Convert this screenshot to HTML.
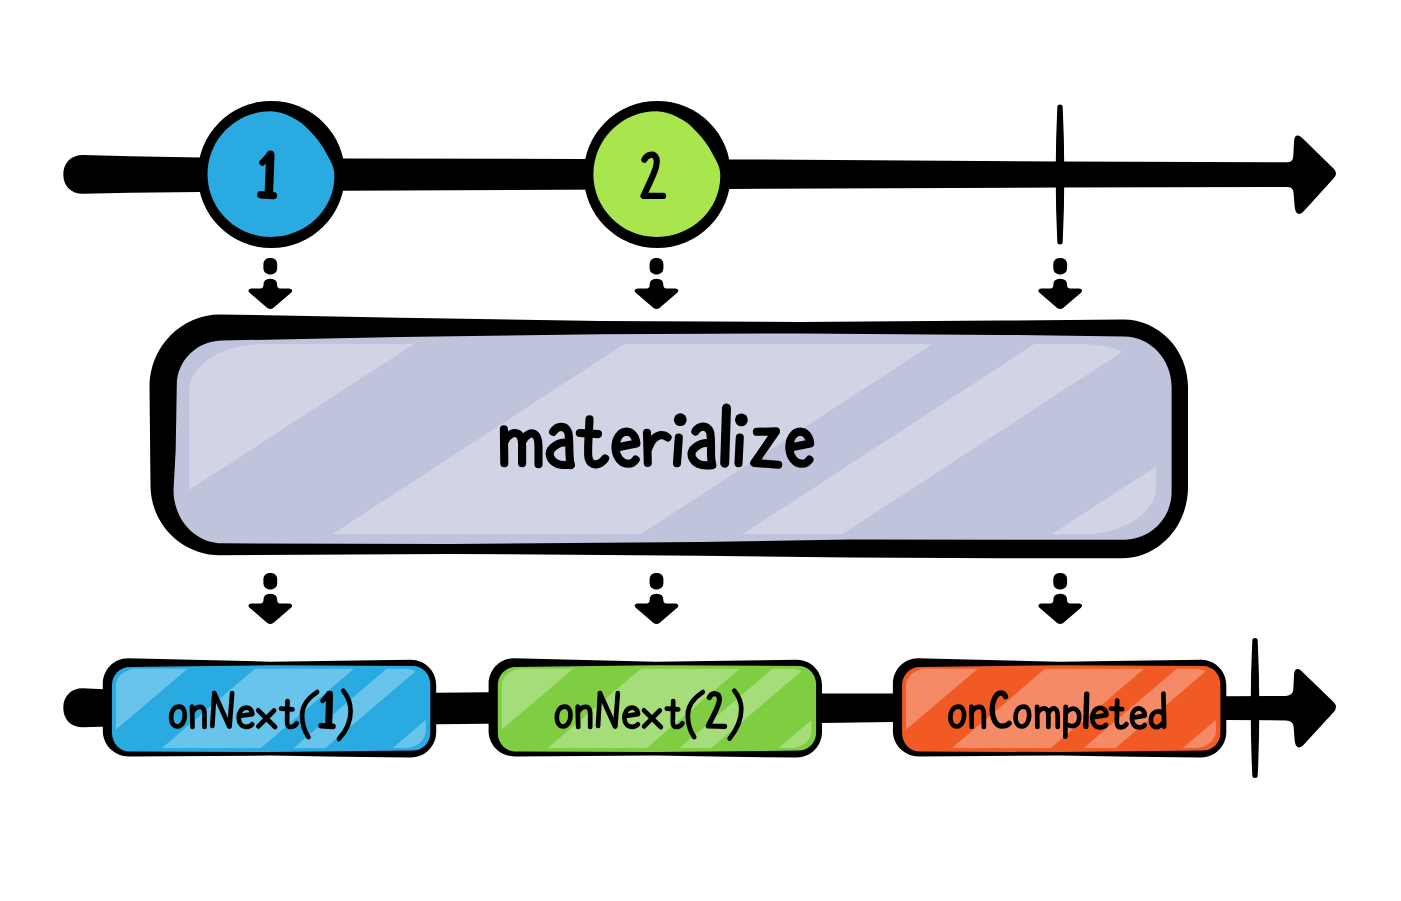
<!DOCTYPE html>
<html><head><meta charset="utf-8"><title>materialize</title>
<style>
html,body{margin:0;padding:0;background:#fff;}
body{width:1401px;height:901px;overflow:hidden;font-family:"Liberation Sans",sans-serif;}
svg{display:block;}
</style></head><body>
<svg width="1401" height="901" viewBox="0 0 1401 901">
<rect width="1401" height="901" fill="#fff"/>

<g fill="#000">
<path d="M83,155 L130,156.3 L200,157.6 L343,158.4 L729,159.4 L1060,161.5 L1288,162.2 Q1293,162 1293.3,156 L1294,142 Q1294.2,134.5 1298,135.5 Q1300,136 1302,137.8 L1333.5,168.5 Q1338.5,173.5 1333.5,178.6 L1303,212 Q1298.5,216 1296,212 Q1294.6,209 1294.3,202 L1293.6,193 Q1293.3,187.3 1288,187 L1060,187.5 L729,189 L343,190.8 L200,192 L130,192.7 L83,193.8 C71.2,193.8 63.3,186.0 63.3,174.4 C63.3,162.8 71.2,155.0 83.0,155.0 Z"/>
<path d="M1057.3,107.1 Q1057.3,104.6 1060,104.6 Q1062.7,104.6 1062.7,107.1 Q1064.3,139.6 1064.3,174.6 Q1064.3,209.6 1062.7,242.1 Q1062.7,244.6 1060,244.6 Q1057.3,244.6 1057.3,242.1 Q1055.7,209.6 1055.7,174.6 Q1055.7,139.6 1057.3,107.1 Z"/>
<circle cx="271.3" cy="174.5" r="73.6"/>
<circle cx="657.2" cy="174.5" r="73.6"/>
</g>
<path d="M270.7,111.3 C284.0,112 297.0,119 305.0,126 C313.0,133.5 319.0,141 324.0,149 L330.0,160 C333.0,165.5 334.4,170 334.4,176 C334.4,209.6 305.9,236.9 270.7,236.9 C235.8,236.9 207.5,208.8 207.5,174.2 C207.5,139.5 235.8,111.3 270.7,111.3 Z" fill="#29abe2"/>
<path d="M656.6,111.3 C669.9,112 682.9,119 690.9,126 C698.9,133.5 704.9,141 709.9,149 L715.9,160 C718.9,165.5 720.3,170 720.3,176 C720.3,209.6 691.8,236.9 656.6,236.9 C621.7,236.9 593.4,208.8 593.4,174.2 C593.4,139.5 621.7,111.3 656.6,111.3 Z" fill="#a9e64d"/>
<g fill="#000">
<rect x="263.4" y="258" width="13.8" height="16.4" rx="5.8" ry="6.2"/><path d="M263.4,285 Q263.4,278.8 270.3,278.8 Q277.2,278.8 277.2,285 L277.2,286 Q277.8,288.6 281.3,288.6 L289.3,288.6 Q293.8,289.5 291.3,292.5 L273.3,308 Q270.3,310.2 267.3,308 L249.3,292.5 Q246.8,289.5 251.3,288.6 L259.3,288.6 Q262.8,288.6 263.4,286 Z"/>
<rect x="263.4" y="573" width="13.8" height="16.4" rx="5.8" ry="6.2"/><path d="M263.4,600 Q263.4,593.8 270.3,593.8 Q277.2,593.8 277.2,600 L277.2,601 Q277.8,603.6 281.3,603.6 L289.3,603.6 Q293.8,604.5 291.3,607.5 L273.3,623 Q270.3,625.2 267.3,623 L249.3,607.5 Q246.8,604.5 251.3,603.6 L259.3,603.6 Q262.8,603.6 263.4,601 Z"/>
<rect x="649.6" y="258" width="13.8" height="16.4" rx="5.8" ry="6.2"/><path d="M649.6,285 Q649.6,278.8 656.5,278.8 Q663.4,278.8 663.4,285 L663.4,286 Q664.0,288.6 667.5,288.6 L675.5,288.6 Q680.0,289.5 677.5,292.5 L659.5,308 Q656.5,310.2 653.5,308 L635.5,292.5 Q633.0,289.5 637.5,288.6 L645.5,288.6 Q649.0,288.6 649.6,286 Z"/>
<rect x="649.6" y="573" width="13.8" height="16.4" rx="5.8" ry="6.2"/><path d="M649.6,600 Q649.6,593.8 656.5,593.8 Q663.4,593.8 663.4,600 L663.4,601 Q664.0,603.6 667.5,603.6 L675.5,603.6 Q680.0,604.5 677.5,607.5 L659.5,623 Q656.5,625.2 653.5,623 L635.5,607.5 Q633.0,604.5 637.5,603.6 L645.5,603.6 Q649.0,603.6 649.6,601 Z"/>
<rect x="1053.3" y="258" width="13.8" height="16.4" rx="5.8" ry="6.2"/><path d="M1053.3,285 Q1053.3,278.8 1060.2,278.8 Q1067.1,278.8 1067.1,285 L1067.1,286 Q1067.7,288.6 1071.2,288.6 L1079.2,288.6 Q1083.7,289.5 1081.2,292.5 L1063.2,308 Q1060.2,310.2 1057.2,308 L1039.2,292.5 Q1036.7,289.5 1041.2,288.6 L1049.2,288.6 Q1052.7,288.6 1053.3,286 Z"/>
<rect x="1053.3" y="573" width="13.8" height="16.4" rx="5.8" ry="6.2"/><path d="M1053.3,600 Q1053.3,593.8 1060.2,593.8 Q1067.1,593.8 1067.1,600 L1067.1,601 Q1067.7,603.6 1071.2,603.6 L1079.2,603.6 Q1083.7,604.5 1081.2,607.5 L1063.2,623 Q1060.2,625.2 1057.2,623 L1039.2,607.5 Q1036.7,604.5 1041.2,603.6 L1049.2,603.6 Q1052.7,603.6 1053.3,601 Z"/>
</g>
<path d="M220.0,314.4 L400.0,317.7 L600.0,320.9 L800.0,322.0 L1000.0,320.6 L1123.0,319.4 C1158.9,319.4 1188.0,349.7 1188.0,387.0 L1188.0,487.0 C1188.0,526.4 1158.5,558.3 1122.0,558.3 L1000.0,558.2 L850.0,557.5 L700.0,555.7 L450.0,553.9 L220.0,555.3 C181.9,555.3 150.8,524.3 150.5,486.0 L149.5,387.0 C149.5,346.9 181.1,314.4 220.0,314.4 Z" fill="#000"/>
<path d="M222.7,340.5 L400.0,337.1 L600.0,334.3 L800.0,333.4 L1000.0,334.9 L1124.0,336.4 C1150.3,336.4 1171.6,359.1 1171.6,387.0 L1171.6,492.0 C1171.6,518.3 1150.3,539.7 1124.0,539.7 L850.0,539.6 L700.0,542.1 L450.0,543.9 L222.0,543.3 C195.2,543.3 173.5,519.4 173.5,490.0 L175.7,450.0 L176.8,385.0 C176.8,360.4 197.3,340.5 222.7,340.5 Z" fill="#bfc4dc"/>
<clipPath id="cOp"><rect x="189" y="344" width="967" height="190.3" rx="74" ry="47"/></clipPath><g clip-path="url(#cOp)" fill="#fff" fill-opacity="0.28"><polygon points="189.0,344.0 414.0,344.0 189.0,490.0"/><polygon points="332.1,534.3 640.6,534.3 932.6,344.0 624.2,344.0"/><polygon points="742.5,534.3 842.2,534.3 1134.2,344.0 1034.5,344.0"/><polygon points="1051.6,534.3 1156.0,534.3 1156.0,466.4"/></g>
<g fill="#000">
<path d="M82.5,688.2 L120,689.9 L437,692.8 L488,692.3 L822,693.4 L892,693.4 L1226,696.3 L1286,696 Q1293,695.6 1293.3,689.6 L1294,675.6 Q1294.2,668.1 1298,669.1 Q1300,669.6 1302,671.4000000000001 L1333.5,702.1 Q1338.5,707.1 1333.5,712.2 L1303,745.6 Q1298.5,749.6 1296,745.6 Q1294.6,742.6 1294.3,735.6 L1293.6,726.6 Q1293.3,720.9 1286,720.4 L1226,720 L892,722 L822,722.9 L488,723.7 L437,724.3 L120,726.3 L82.5,727.3 C71.0,727.3 63.3,719.5 63.3,707.8 C63.3,696.0 71.0,688.2 82.5,688.2 Z"/>
<path d="M1252.3,640.5 Q1252.3,638 1255,638 Q1257.7,638 1257.7,640.5 Q1259.3,673.0 1259.3,708 Q1259.3,743.0 1257.7,775.5 Q1257.7,778 1255,778 Q1252.3,778 1252.3,775.5 Q1250.7,743.0 1250.7,708 Q1250.7,673.0 1252.3,640.5 Z"/>
</g>
<path d="M127.8,658.3 L269.8,661.7 L410.8,659.8 C424.8,659.8 436.2,671.1 436.2,685.0 L436.2,732.0 C436.2,746.1 424.8,757.5 410.8,757.5 L342.8,756.8 L269.8,755.6 L128.8,756.4 C114.4,756.4 102.8,745.0 102.8,731.0 L102.8,684.0 C102.8,669.8 114.0,658.3 127.8,658.3 Z" fill="#000"/><path d="M129.8,667.0 L269.8,665.3 L412.8,666.0 C422.5,666.0 430.3,674.1 430.3,684.0 L430.3,733.0 C430.3,742.7 422.5,750.6 412.8,750.6 L269.8,752.0 L129.8,751.6 C120.0,751.6 112.0,743.3 112.0,733.0 L112.0,685.0 C112.0,675.1 120.0,667.0 129.8,667.0 Z" fill="#29abe2"/><clipPath id="cL1"><rect x="115.7" y="668.6" width="310.2" height="79.6" rx="21" ry="18"/></clipPath><g clip-path="url(#cL1)" fill="#fff" fill-opacity="0.3"><polygon points="115.7,668.6 187.9,668.6 115.7,729.7"/><polygon points="161.6,748.2 260.6,748.2 354.2,668.6 255.3,668.6"/><polygon points="293.3,748.2 325.2,748.2 418.9,668.6 386.9,668.6"/><polygon points="392.4,748.2 425.9,748.2 425.9,719.8"/></g>
<path d="M513.6,658.3 L655.6,661.7 L796.6,659.8 C810.6,659.8 822.0,671.1 822.0,685.0 L822.0,732.0 C822.0,746.1 810.6,757.5 796.6,757.5 L728.6,756.8 L655.6,755.6 L514.6,756.4 C500.2,756.4 488.6,745.0 488.6,731.0 L488.6,684.0 C488.6,669.8 499.8,658.3 513.6,658.3 Z" fill="#000"/><path d="M515.6,667.0 L655.6,665.3 L798.6,666.0 C808.3,666.0 816.1,674.1 816.1,684.0 L816.1,733.0 C816.1,742.7 808.3,750.6 798.6,750.6 L655.6,752.0 L515.6,751.6 C505.8,751.6 497.8,743.3 497.8,733.0 L497.8,685.0 C497.8,675.1 505.8,667.0 515.6,667.0 Z" fill="#7fce42"/><clipPath id="cL2"><rect x="501.5" y="668.6" width="310.2" height="79.6" rx="21" ry="18"/></clipPath><g clip-path="url(#cL2)" fill="#fff" fill-opacity="0.3"><polygon points="501.5,668.6 573.7,668.6 501.5,729.7"/><polygon points="547.4,748.2 646.4,748.2 740.0,668.6 641.1,668.6"/><polygon points="679.1,748.2 711.0,748.2 804.7,668.6 772.7,668.6"/><polygon points="778.2,748.2 811.7,748.2 811.7,719.8"/></g>
<path d="M917.9,658.3 L1059.9,661.7 L1200.9,659.8 C1214.9,659.8 1226.3,671.1 1226.3,685.0 L1226.3,732.0 C1226.3,746.1 1214.9,757.5 1200.9,757.5 L1132.9,756.8 L1059.9,755.6 L918.9,756.4 C904.5,756.4 892.9,745.0 892.9,731.0 L892.9,684.0 C892.9,669.8 904.1,658.3 917.9,658.3 Z" fill="#000"/><path d="M919.9,667.0 L1059.9,665.3 L1202.9,666.0 C1212.6,666.0 1220.4,674.1 1220.4,684.0 L1220.4,733.0 C1220.4,742.7 1212.6,750.6 1202.9,750.6 L1059.9,752.0 L919.9,751.6 C910.1,751.6 902.1,743.3 902.1,733.0 L902.1,685.0 C902.1,675.1 910.1,667.0 919.9,667.0 Z" fill="#f15a24"/><clipPath id="cL3"><rect x="905.8" y="668.6" width="310.2" height="79.6" rx="21" ry="18"/></clipPath><g clip-path="url(#cL3)" fill="#fff" fill-opacity="0.3"><polygon points="905.8,668.6 978.0,668.6 905.8,729.7"/><polygon points="951.7,748.2 1050.7,748.2 1144.3,668.6 1045.4,668.6"/><polygon points="1083.4,748.2 1115.3,748.2 1209.0,668.6 1177.0,668.6"/><polygon points="1182.5,748.2 1216.0,748.2 1216.0,719.8"/></g>
<g fill="none" stroke="#000" stroke-linecap="round" stroke-linejoin="round"><g stroke-width="4.7"><path d="M179.3,706.6 C173.6,706.6 171.1,712.1 171.1,717.5 C171.1,722.8 173.6,726.5 177.5,726.5 C182.1,726.5 184.8,720.7 184.8,715.0 C184.8,710.0 182.8,706.6 179.3,706.6 Z"/><path d="M192.0,706.6 L192.5,727.0"/><path d="M192.7,711.8 C195.0,707.5 198.5,706.3 201.4,707.0 C204.1,708.0 204.5,710.7 204.5,714.3 L204.5,727.0"/><path d="M214.3,693.2 L212.3,726.0"/><path d="M214.3,693.2 L229.2,726.3"/><path d="M232.1,693.2 L229.6,726.3"/><path d="M239.6,716.0 L252.4,714.1 C252.4,710.0 249.2,707.5 246.0,707.7 C241.4,708.0 238.5,712.8 238.7,717.8 C238.9,723.5 242.1,726.8 246.4,726.8 C248.9,726.8 251.0,725.8 252.2,724.3"/><path d="M258.2,710.3 L275.1,727.0"/><path d="M274.1,710.5 L258.4,726.4"/><path d="M287.5,701.1 L287.1,722.1 C287.1,725.7 288.6,727.1 290.7,727.0 C293.5,726.8 295.7,725.0 296.8,723.2"/><path d="M281.1,708.7 L292.5,709.4"/><path d="M317.1,692.1 C308.5,697.8 302.1,705.7 302.1,715.0 C302.1,724.3 305.0,732.1 308.5,737.1"/><path d="M343.2,690.7 C348.5,697.1 350.6,704.3 350.6,711.4 C350.6,721.4 345.7,731.4 338.9,738.9"/><path d="M565.0,706.6 C559.3,706.6 556.8,712.1 556.8,717.5 C556.8,722.8 559.3,726.5 563.2,726.5 C567.8,726.5 570.5,720.7 570.5,715.0 C570.5,710.0 568.5,706.6 565.0,706.6 Z"/><path d="M577.7,706.6 L578.2,727.0"/><path d="M578.4,711.8 C580.7,707.5 584.2,706.3 587.1,707.0 C589.8,708.0 590.2,710.7 590.2,714.3 L590.2,727.0"/><path d="M600.0,693.2 L598.0,726.0"/><path d="M600.0,693.2 L614.9,726.3"/><path d="M617.8,693.2 L615.3,726.3"/><path d="M625.3,716.0 L638.1,714.1 C638.1,710.0 634.9,707.5 631.7,707.7 C627.1,708.0 624.2,712.8 624.4,717.8 C624.6,723.5 627.8,726.8 632.1,726.8 C634.6,726.8 636.7,725.8 637.9,724.3"/><path d="M643.9,710.3 L660.8,727.0"/><path d="M659.8,710.5 L644.1,726.4"/><path d="M673.2,701.1 L672.8,722.1 C672.8,725.7 674.3,727.1 676.4,727.0 C679.2,726.8 681.4,725.0 682.5,723.2"/><path d="M666.8,708.7 L678.2,709.4"/><path d="M702.8,692.1 C694.2,697.8 687.8,705.7 687.8,715.0 C687.8,724.3 690.7,732.1 694.2,737.1"/><path d="M734.3,690.7 C739.3,696.7 741.3,702.6 741.3,709.3 C741.3,720.0 736.0,730.6 729.6,738.6"/><path d="M958.6,706.6 C952.9,706.6 950.4,712.1 950.4,717.5 C950.4,722.8 952.9,726.5 956.8,726.5 C961.4,726.5 964.1,720.7 964.1,715.0 C964.1,710.0 962.1,706.6 958.6,706.6 Z"/><path d="M971.3,706.6 L971.8,727.0"/><path d="M972.0,711.8 C974.3,707.5 977.8,706.3 980.7,707.0 C983.4,708.0 983.8,710.7 983.8,714.3 L983.8,727.0"/><path d="M1023.7,706.6 C1018.0,706.6 1015.5,712.1 1015.5,717.5 C1015.5,722.8 1018.0,726.5 1021.9,726.5 C1026.5,726.5 1029.2,720.7 1029.2,715.0 C1029.2,710.0 1027.2,706.6 1023.7,706.6 Z"/><path d="M1037.1,706.8 L1037.4,727.0"/><path d="M1037.8,712.6 C1040.1,708.3 1044.0,707.6 1046.3,709.1 C1048.3,710.7 1048.4,713.4 1048.4,716.5 L1048.4,727.0"/><path d="M1048.6,712.6 C1050.6,708.7 1053.7,707.6 1055.6,709.1 C1057.6,710.7 1057.7,713.4 1057.7,716.5 L1057.7,727.0"/><path d="M1065.7,706.8 L1065.3,736.7"/><path d="M1066.1,712.6 C1068.8,708.7 1073.5,707.6 1076.6,709.9 C1079.7,712.6 1080.1,718.8 1077.8,723.1 C1075.0,726.6 1070.4,726.6 1066.1,724.3"/><path d="M1093.1,717.3 L1106.5,715.1 C1106.5,710.7 1103.4,707.6 1099.9,707.8 C1095.2,708.1 1092.1,713.0 1092.3,718.4 C1092.5,723.9 1095.6,727.4 1099.9,727.4 C1102.6,727.4 1104.7,726.4 1106.0,724.9"/><path d="M1117.2,700.6 L1116.8,722.3 C1116.8,725.8 1118.3,727.5 1120.7,727.4 C1123.4,727.1 1125.3,725.8 1126.5,723.9"/><path d="M1111.0,708.6 L1122.2,709.2"/><path d="M1132.6,717.7 L1144.8,715.6 C1144.8,711.1 1141.7,708.1 1138.3,708.3 C1133.9,708.7 1131.8,713.4 1131.9,718.4 C1132.2,723.9 1135.0,727.4 1139.3,727.4 C1141.8,727.4 1143.6,726.4 1144.7,725.0"/><path d="M1163.4,714.2 C1160.7,710.3 1156.0,710.7 1153.3,713.4 C1150.2,716.5 1150.2,722.7 1152.9,725.8 C1156.0,728.5 1160.7,726.6 1163.4,722.3"/><path d="M1163.4,693.6 L1164.2,726.6"/></g><g stroke-width="8.1"><path d="M503.9,429.2 L504.3,463.3"/><path d="M504.8,441.2 C508.3,434.1 514.5,431.4 518.5,434.1 C521.6,436.3 522.1,441.2 522.1,445.6 L522.1,463.3"/><path d="M522.5,441.2 C525.6,434.5 531.4,431.8 534.9,434.5 C538.3,437.2 538.5,442.0 538.5,446.5 L538.5,464.2"/><path d="M553.1,431.8 C557.1,426.1 565.1,424.3 568.2,432.3 C569.6,437.6 569.1,448.3 569.6,456.2 C569.7,460.7 570.3,463.3 570.9,465.1"/><path d="M568.7,442.9 C563.3,441.6 556.2,443.4 550.9,449.6 C548.3,454.0 550.0,459.8 556.2,463.3 C560.7,465.6 566.0,465.1 570.4,464.7"/><path d="M589.5,419.4 C589.1,430.5 587.7,444.7 588.2,455.4 C588.6,462.5 592.6,465.1 597.1,464.2 C601.1,463.3 603.7,460.7 605.1,458.5"/><path d="M579.8,433.0 L598.0,434.1"/><path d="M617.8,447.2 L636.4,443.6 C635.9,436.7 632.0,431.8 626.6,431.6 C619.5,431.6 615.3,439.4 615.5,448.3 C616.0,457.1 621.3,463.8 628.4,463.8 C632.0,463.8 634.2,462.0 635.7,459.6"/><path d="M647.0,432.7 L647.8,462.9"/><path d="M648.4,448.3 C651.0,441.2 655.0,435.8 661.2,435.1 C663.9,435.1 666.1,436.0 667.6,437.4"/><path d="M678.8,437.6 L677.0,463.3"/><path d="M695.4,431.4 C698.5,426.1 706.5,423.8 710.1,431.8 C711.4,437.6 710.9,448.3 711.1,456.2 C711.3,460.7 711.8,463.3 712.3,465.1"/><path d="M710.5,443.4 C705.2,442.0 698.1,443.8 692.7,450.0 C690.1,454.5 691.9,460.2 698.1,463.8 C702.5,465.8 707.8,465.6 712.0,464.9"/><path d="M739.8,437.6 L738.5,463.3"/><path d="M756.9,431.8 L776.0,431.4 L754.3,462.9 L778.2,464.7"/><path d="M791.5,447.2 L810.2,443.6 C809.7,436.7 805.7,431.8 800.4,431.6 C793.3,431.6 789.1,439.4 789.3,448.3 C789.8,457.1 795.1,463.8 802.2,463.8 C805.7,463.8 808.0,462.0 809.5,459.6"/></g><g stroke-width="9"><path d="M726.5,408.1 L724.7,463.2"/></g><path stroke-width="5.4" d="M1086.7,694.1 L1085.8,726.4"/><path stroke-width="7.0" d="M329.6,694.3 L328.7,725.3"/><path stroke-width="5.0" d="M322.7,700.6 L328.9,693.9"/><path stroke-width="5.8" d="M321.2,725.7 L332.9,726.3"/><path stroke-width="5.2" d="M709.3,697.5 C712.0,692.3 719.4,692.1 719.4,699.3 C719.3,706.6 712.0,717.3 708.3,726.0 L724.6,726.3"/><path stroke-width="5.3" d="M1005.5,696.7 C1004.7,693.7 1002.5,692.7 1000.4,692.8 C995.7,693.7 992.2,701.4 992.2,709.1 C992.2,718.5 995.7,725.8 1001.7,726.1 C1005.1,726.1 1007.7,725.0 1009.2,723.4"/><path stroke-width="8.4" d="M270.4,154.7 L268.8,194.1"/><path stroke-width="6.2" d="M262.4,162.7 L269.8,154.7"/><path stroke-width="7.4" d="M260.9,194.7 L273.4,195.6"/><g stroke-width="6.2"><path d="M644.4,159.7 C646.7,155.0 653.8,151.9 656.4,158.5 C658.2,165.2 653.8,174.1 643.5,195.9 L663.1,195.9"/></g></g><g fill="#000"><circle cx="680.3" cy="419.7" r="6.4"/><circle cx="741.4" cy="419.9" r="6.4"/></g>
</svg></body></html>
